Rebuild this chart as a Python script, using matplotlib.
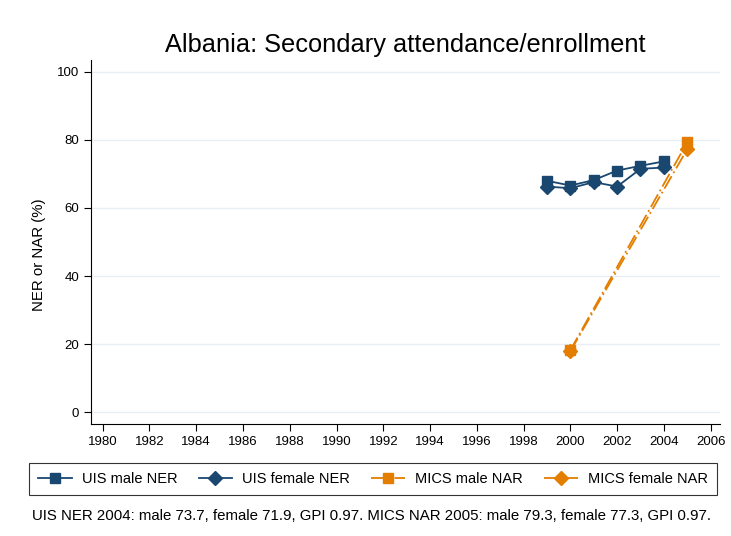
import matplotlib.pyplot as plt
import matplotlib
matplotlib.rcParams['font.family'] = ['Liberation Sans', 'DejaVu Sans']

years_uis = [1999, 2000, 2001, 2002, 2003, 2004]
uis_male = [68.0, 66.6, 68.2, 71.0, 72.4, 73.7]
uis_female = [66.3, 65.8, 67.6, 66.3, 71.5, 71.9]
years_mics = [2000, 2005]
mics_male = [18.2, 79.3]
mics_female = [17.9, 77.3]
xticks = list(range(1980, 2007, 2))
yticks = [0, 20, 40, 60, 80, 100]

navy = '#1a476f'
orange = '#e37e00'

fig = plt.figure(figsize=(7.31, 5.36), dpi=100)
ax = fig.add_axes([91/731, 1 - 424/536, 629/731, 364/536])

ax.plot(years_uis, uis_male, '-', color=navy, lw=1.3, marker='s', ms=7, label='UIS male NER')
ax.plot(years_uis, uis_female, '-', color=navy, lw=1.3, marker='D', ms=7, label='UIS female NER')
ax.plot(years_mics, mics_male, color=orange, lw=1.3, dashes=[8, 2, 1, 2], marker='s', ms=7, label='MICS male NAR')
ax.plot(years_mics, mics_female, color=orange, lw=1.3, dashes=[8, 2, 1, 2], marker='D', ms=7, label='MICS female NAR')

ax.set_xlim(1979.5, 2006.4)
ax.set_ylim(-3.5, 103.5)
ax.set_xticks(xticks)
ax.set_yticks(yticks)
ax.tick_params(labelsize=9.5, length=5, color='black')
ax.grid(axis='y', color='#e8eef3', lw=1)
ax.set_axisbelow(True)
for s in ['top', 'right']:
    ax.spines[s].set_visible(False)
ax.set_ylabel('NER or NAR (%)', fontsize=10.8)
ax.yaxis.set_label_coords(-0.072, 0.464)
ax.set_title('Albania: Secondary attendance/enrollment', fontsize=18.3, pad=5.5)

leg = fig.legend(loc='center', bbox_to_anchor=(373/731, 1 - 479/536), ncol=4, fontsize=10.5,
                 frameon=True, fancybox=False, edgecolor='black', handlelength=2.3,
                 handletextpad=0.7, columnspacing=1.45, borderpad=0.6)
leg.get_frame().set_linewidth(0.8)

fig.text(32/731, 1 - 516/536, 'UIS NER 2004: male 73.7, female 71.9, GPI 0.97. MICS NAR 2005: male 79.3, female 77.3, GPI 0.97.',
         fontsize=10.8, va='center')

fig.savefig('out.png', dpi=100)
